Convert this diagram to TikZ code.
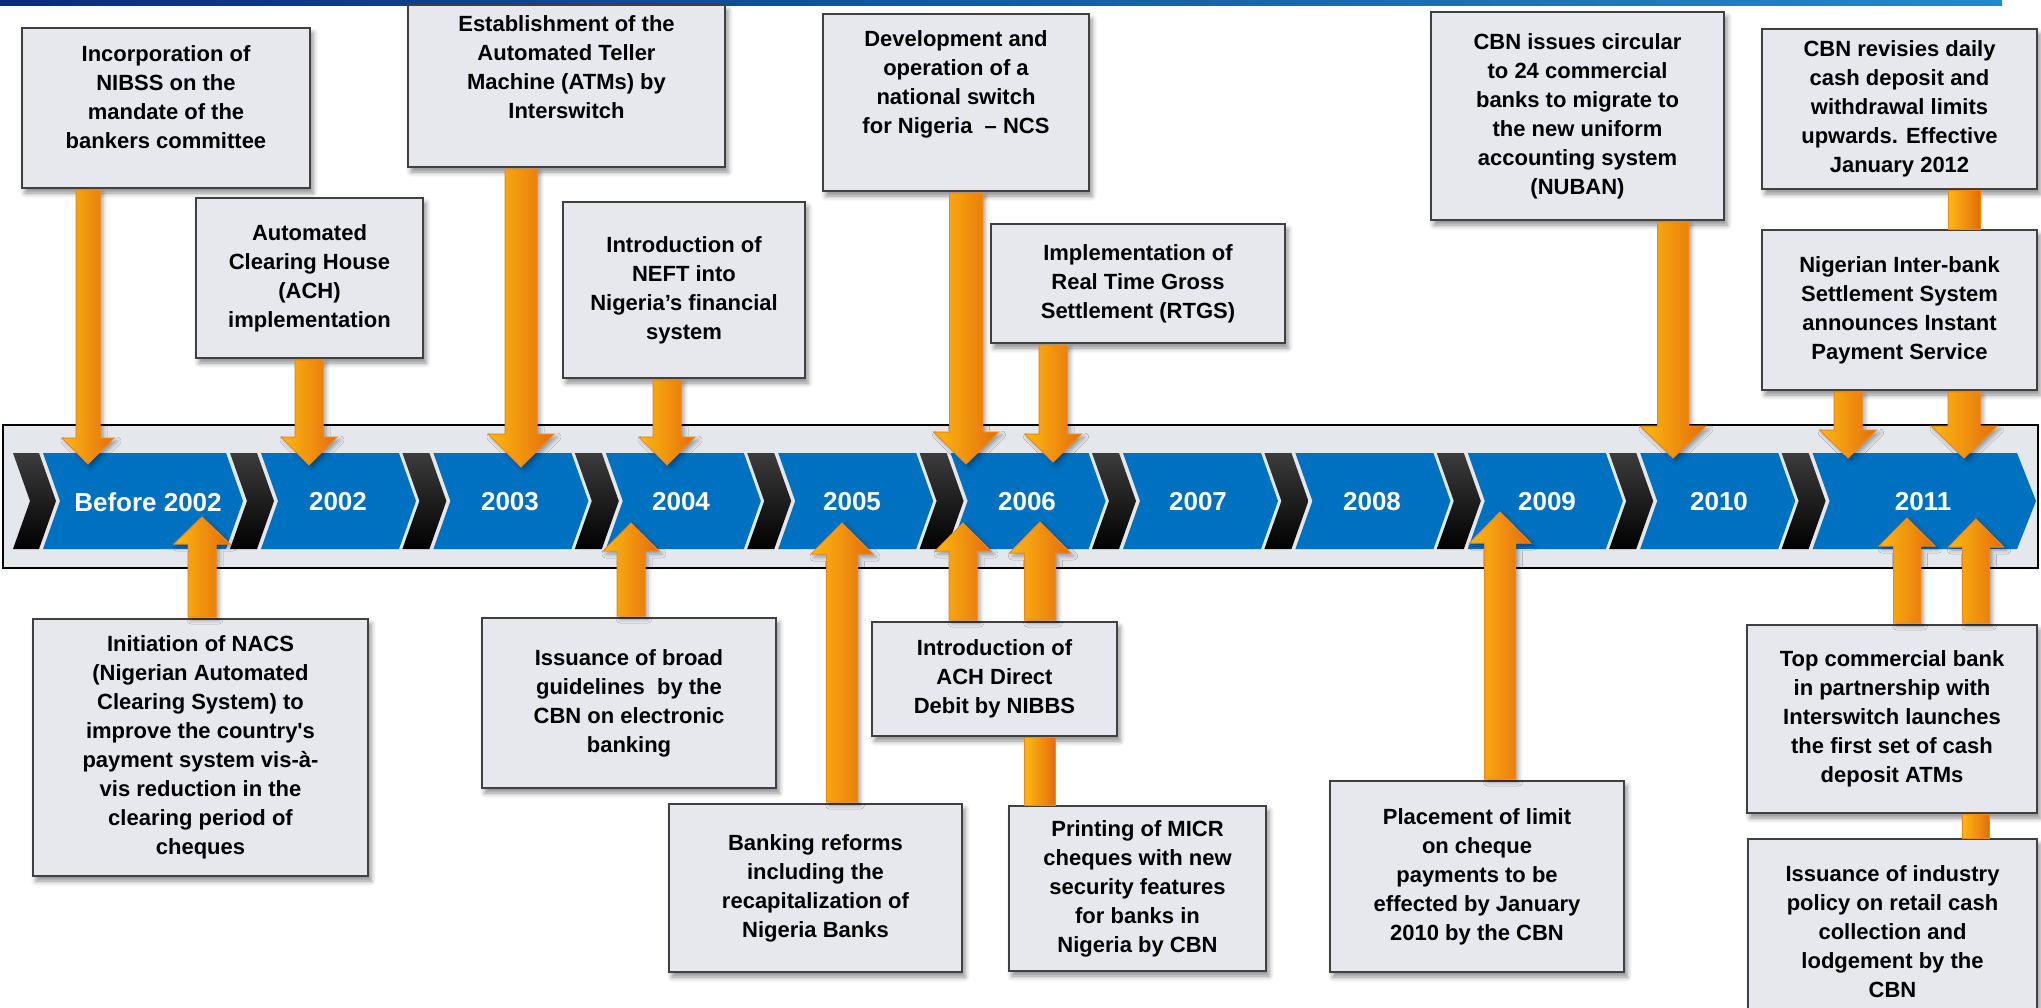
\documentclass[tikz,border=0pt]{standalone}
\usepackage{fontspec}
\newfontfamily\lab{Liberation Sans}
\usetikzlibrary{calc,shadows.blur}
\definecolor{boxfill}{HTML}{E6E8ED}
\definecolor{boxline}{HTML}{404040}
\definecolor{bandfill}{HTML}{E4E7EC}
\definecolor{chevblue}{HTML}{0070C0}
\definecolor{orlight}{HTML}{FDB913}
\definecolor{ordark}{HTML}{E46C0A}
\definecolor{orline}{HTML}{F7860F}
\definecolor{navy}{HTML}{0B2A80}
\definecolor{skyb}{HTML}{1E8AD0}
\definecolor{chevgray}{HTML}{3C3C3C}
\tikzset{
 evbox/.style={draw=boxline, line width=2pt, fill=boxfill, rectangle, inner sep=0pt, align=center,
   font=\lab\bfseries\fontsize{22}{29}\selectfont, text=black,
   blur shadow={shadow xshift=3pt, shadow yshift=-5pt, shadow blur radius=5pt, shadow opacity=45}},
 yearlbl/.style={font=\lab\bfseries\fontsize{26}{30}\selectfont, text=white, inner sep=0pt},
 orarrow/.style={draw=orline, line width=1pt, left color=orlight, right color=ordark,
   blur shadow={shadow xshift=3pt, shadow yshift=-3pt, shadow blur radius=4pt, shadow opacity=35}},
 orbar/.style={draw=orline, line width=1pt, left color=orlight, right color=ordark},
 bluechev/.style={fill=chevblue},
 blackchev/.style={top color=chevgray, bottom color=black},
}
% down arrow: #1 start anchor, #2 tip coordinate, #3 half shaft, #4 half head, #5 head length
\newcommand\tldown[5]{%
 \path[orarrow] let \p1=(#1), \p2=(#2) in
 (\x2-#3pt,\y1-1pt) -- (\x2-#3pt,\y2+#5pt) -- (\x2-#4pt,\y2+#5pt) -- (\x2,\y2) --
 (\x2+#4pt,\y2+#5pt) -- (\x2+#3pt,\y2+#5pt) -- (\x2+#3pt,\y1-1pt) -- cycle;}
\newcommand\tlup[5]{%
 \path[orarrow] let \p1=(#1), \p2=(#2) in
 (\x2-#3pt,\y1+1pt) -- (\x2-#3pt,\y2-#5pt) -- (\x2-#4pt,\y2-#5pt) -- (\x2,\y2) --
 (\x2+#4pt,\y2-#5pt) -- (\x2+#3pt,\y2-#5pt) -- (\x2+#3pt,\y1+1pt) -- cycle;}
% shaft piece between two boxes: #1 coordinate giving x, #2 and #3 anchors giving y, #4 half shaft
\newcommand\tlbar[4]{%
 \path[orbar] let \p1=(#1), \p2=(#2), \p3=(#3) in
 (\x1-#4pt,\y2) rectangle (\x1+#4pt,\y3);}
\newcommand\chevshape[4]{%
 \path[#4] (#1,453) -- (#2,453) -- (#2+#3,501) -- (#2,549) -- (#1,549) -- (#1+17,501) -- cycle;}
\begin{document}
\begin{tikzpicture}[x=1pt,y=-1pt]
\useasboundingbox (0,0) rectangle (2041,1007);
% background band and chevrons
\shade[left color=navy, right color=skyb] (0,0) rectangle (2002,5);
\draw[black, line width=2pt, fill=bandfill] (3,425) rectangle (2038,568);
\chevshape{13}{39}{17}{blackchev}
\chevshape{43}{226}{17}{bluechev}
\foreach \k in {0,...,8}{
  \pgfmathsetmacro\L{261+172.4*\k}
  \chevshape{\L-31}{\L-4}{17}{blackchev}
  \chevshape{\L}{\L+138}{17}{bluechev}
}
\chevshape{1781.6}{1808.6}{17}{blackchev}
\chevshape{1812.6}{2017}{19}{bluechev}

% year labels
\node[yearlbl] (y0) at (148,502) {Before 2002};
\node[yearlbl] (y1) at (338,502) {2002};
\node[yearlbl] (y2) at (510,502) {2003};
\node[yearlbl] (y3) at (681,502) {2004};
\node[yearlbl] (y4) at (852,502) {2005};
\node[yearlbl] (y5) at (1027,502) {2006};
\node[yearlbl] (y6) at (1198,502) {2007};
\node[yearlbl] (y7) at (1372,502) {2008};
\node[yearlbl] (y8) at (1547,502) {2009};
\node[yearlbl] (y9) at (1719,502) {2010};
\node[yearlbl] (y10) at (1923,502) {2011};

% top boxes
\node[evbox, minimum width=288pt, minimum height=160pt] (B1) at (166,108) {Incorporation of\\NIBSS on the\\mandate of the\\bankers committee\\[-8pt]\mbox{}};
\node[evbox, minimum width=227pt, minimum height=160pt] (B2) at (309.5,278) {Automated\\Clearing House\\(ACH)\\implementation};
\node[evbox, minimum width=317pt, minimum height=162pt] (B3) at (566.5,86) {Establishment of the\\Automated Teller\\Machine (ATMs) by\\Interswitch\\[8pt]\mbox{}};
\node[evbox, minimum width=242pt, minimum height=176pt] (B4) at (684,290) {Introduction of\\NEFT into\\Nigeria’s financial\\system};
\node[evbox, minimum width=266pt, minimum height=177pt] (B5) at (956,102.5) {Development and\\operation of a\\national switch\\for Nigeria \ – NCS\\[12pt]\mbox{}};
\node[evbox, minimum width=294pt, minimum height=119pt] (B6) at (1138,283.5) {Implementation of\\Real Time Gross\\Settlement (RTGS)};
\node[evbox, minimum width=293pt, minimum height=208pt] (B7) at (1577.5,116) {CBN issues circular\\to 24 commercial\\banks to migrate to\\the new uniform\\accounting system\\(NUBAN)};
\node[evbox, minimum width=275pt, minimum height=160pt] (B8) at (1899.5,109) {CBN revisies daily\\cash deposit and\\withdrawal limits\\upwards. Effective\\January 2012};
\node[evbox, minimum width=275pt, minimum height=160pt] (B9) at (1899.5,310) {Nigerian Inter-bank\\Settlement System\\announces Instant\\Payment Service};
% bottom boxes
\node[evbox, minimum width=335pt, minimum height=257pt] (N1) at (200.5,747.5) {Initiation of NACS\\(Nigerian Automated\\Clearing System) to\\improve the country's\\payment system vis-à-\\vis reduction in the\\clearing period of\\cheques};
\node[evbox, minimum width=294pt, minimum height=170pt] (N2) at (629,703) {Issuance of broad\\guidelines \ by the\\CBN on electronic\\banking};
\node[evbox, minimum width=293pt, minimum height=168pt] (N3) at (815.5,888) {Banking reforms\\including the\\recapitalization of\\Nigeria Banks};
\node[evbox, minimum width=245pt, minimum height=114pt] (N4) at (994.5,679) {Introduction of\\ACH Direct\\Debit by NIBBS};
\node[evbox, minimum width=257pt, minimum height=165pt] (N5) at (1137.5,888.5) {Printing of MICR\\cheques with new\\security features\\for banks in\\Nigeria by CBN};
\node[evbox, minimum width=294pt, minimum height=191pt] (N6) at (1477,876.5) {Placement of limit\\on cheque\\payments to be\\effected by January\\2010 by the CBN};
\node[evbox, minimum width=290pt, minimum height=188pt] (N7) at (1892,719) {Top commercial bank\\in partnership with\\Interswitch launches\\the first set of cash\\deposit ATMs};
\node[evbox, minimum width=289pt, minimum height=186pt] (N8) at (1892.5,932) {Issuance of industry\\policy on retail cash\\collection and\\lodgement by the\\CBN};

% arrow tips
\coordinate (tA1) at (88,464);
\coordinate (tA2) at (309,465);
\coordinate (tA3) at (521,467);
\coordinate (tA4) at (667,465);
\coordinate (tA5) at (966,464);
\coordinate (tA6) at (1053,462);
\coordinate (tA7) at (1673,458);
\coordinate (tA8) at (1848,458);
\coordinate (tA9) at (1964,458);
\coordinate (tU1) at (202,517);
\coordinate (tU2) at (631,523);
\coordinate (tU3) at (842,523);
\coordinate (tU4) at (963,523);
\coordinate (tU5) at (1040,522);
\coordinate (tU6) at (1500,512);
\coordinate (tU7) at (1907,518);
\coordinate (tU8) at (1976,519);

\tldown{B1.south}{tA1}{12}{26}{26}
\tldown{B2.south}{tA2}{14}{28}{28}
\tldown{B3.south}{tA3}{16}{33}{33}
\tldown{B4.south}{tA4}{14}{28}{28}
\tldown{B5.south}{tA5}{16.5}{32.5}{32}
\tldown{B6.south}{tA6}{14}{28.5}{28}
\tldown{B7.south}{tA7}{15.5}{33}{32}
\tldown{B9.south}{tA8}{14}{28.5}{28}
\tlbar{tA9}{B8.south}{B9.north}{16}
\tldown{B9.south}{tA9}{16}{33}{32}
\tlup{N1.north}{tU1}{14}{28}{27}
\tlup{N2.north}{tU2}{14}{28}{28}
\tlup{N3.north}{tU3}{15.5}{31}{31}
\tlup{N4.north}{tU4}{14}{28}{28}
\tlbar{tU5}{N5.north}{N4.south}{15.5}
\tlup{N4.north}{tU5}{15.5}{30.5}{31}
\tlup{N6.north}{tU6}{15.5}{30.5}{31}
\tlup{N7.north}{tU7}{13.5}{28}{28}
\tlbar{tU8}{N8.north}{N7.south}{13.5}
\tlup{N7.north}{tU8}{13.5}{27.5}{28}
\end{tikzpicture}
\end{document}
